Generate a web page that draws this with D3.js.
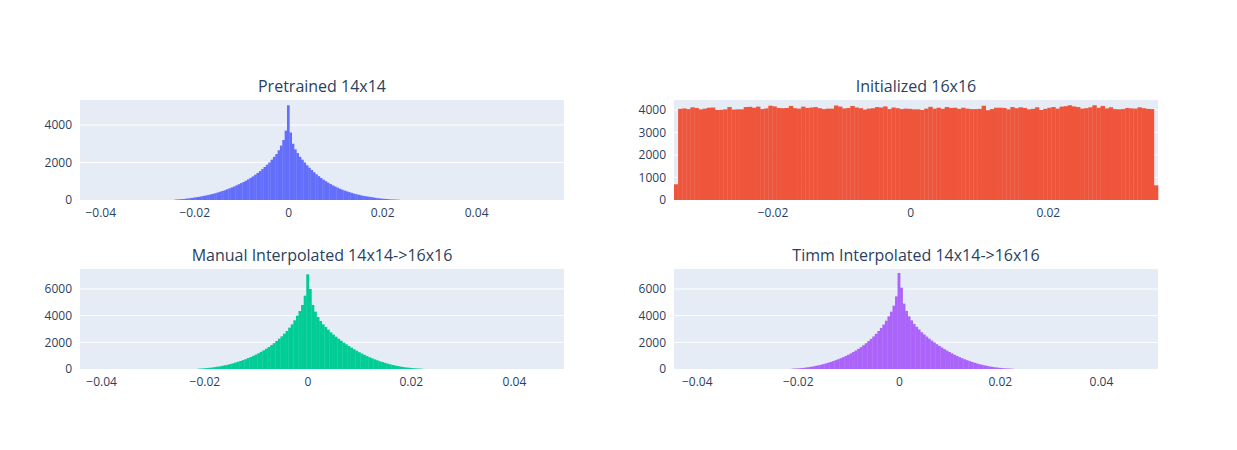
<!DOCTYPE html>
<html>
<head>
<meta charset="utf-8">
<script src="https://cdn.jsdelivr.net/npm/d3@7"></script>
<style>
  body { margin: 0; background: #fff; }
  text { font-family: "Open Sans", sans-serif; fill: #2a3f5f; }
</style>
</head>
<body>
<div id="chart"></div>
<script>
// bin counts, bin width 0.0005, peak bin centred on 0
const binWidth = 0.0005

const pretrainedCounts = [20, 30, 40, 50, 60, 80, 90, 110, 130, 150, 170, 190, 220, 240, 270, 300, 330, 360,
  400, 440, 480, 520, 570, 620, 670, 720, 780, 840, 900, 960, 1030, 1100, 1180, 1260, 1350, 1440, 1540,
  1650, 1760, 1880, 2000, 2150, 2300, 2450, 2650, 2900, 3200, 3700,
  5050,
  3600, 3000, 2700, 2500, 2300, 2150, 2000, 1850, 1720, 1600, 1480, 1370, 1270, 1170, 1080, 1000, 920,
  850, 780, 720, 660, 600, 550, 500, 460, 420, 380, 340, 310, 280, 250, 220, 200, 180, 160, 140, 120,
  100, 85, 70, 60, 50, 40, 30, 25, 20, 15]

const manualCounts = [30, 40, 50, 70, 90, 110, 140, 170, 200, 240, 280, 320, 370, 420, 480, 540, 600,
  670, 740, 820, 900, 990, 1080, 1180, 1290, 1400, 1520, 1650, 1790, 1940, 2100, 2270, 2450, 2650,
  2850, 3100, 3350, 3650, 4000, 4350, 4800, 5500,
  7100,
  6000, 4800, 4300, 3900, 3600, 3350, 3150, 2950, 2750, 2580, 2420, 2270, 2120, 1980, 1850, 1720,
  1600, 1480, 1370, 1260, 1160, 1060, 970, 880, 800, 720, 650, 580, 520, 460, 400, 350, 300, 260,
  220, 180, 150, 120, 100, 80, 60, 45, 35, 25]

const timmCounts = [25, 35, 45, 60, 80, 100, 130, 160, 190, 230, 270, 310, 360, 410, 470, 530, 590,
  660, 730, 810, 890, 980, 1070, 1170, 1280, 1390, 1510, 1640, 1780, 1930, 2090, 2260, 2440, 2640,
  2850, 3080, 3330, 3620, 3950, 4300, 4750, 5450,
  7200,
  6100, 4900, 4350, 3950, 3650, 3380, 3170, 2960, 2760, 2590, 2430, 2280, 2130, 1990, 1860, 1730,
  1610, 1490, 1380, 1270, 1170, 1070, 980, 890, 810, 730, 660, 590, 530, 470, 410, 360, 310, 270,
  230, 190, 160, 130, 105, 85, 65, 50, 40, 30, 20]

// uniform init: edges span the whole axis
const initStart = -0.0343, initEnd = 0.0360
const initCounts = [700, 4050, 4070, 4040, 4120, 4090, 4030, 4060, 4100, 4110, 4000, 4010, 4030, 4130,
  4020, 4030, 4030, 4130, 4140, 4100, 4150, 4040, 4070, 4190, 4160, 4090, 4080, 4090, 4180, 4080,
  4060, 4150, 4090, 4110, 4130, 4080, 4040, 4060, 4060, 4200, 4150, 4070, 4090, 4180, 4110, 4080,
  4020, 4060, 4080, 4130, 4110, 4160, 4040, 4110, 4080, 4040, 4060, 4050, 4030, 4030, 4000, 4060,
  4140, 4060, 4100, 4050, 4130, 4090, 4100, 4050, 4100, 4060, 4040, 4040, 4050, 4190, 3990, 4040,
  4100, 4100, 4090, 4030, 4130, 4080, 4120, 4090, 4030, 4050, 4120, 4000, 4050, 4100, 4130, 4060,
  4150, 4170, 4210, 4160, 4130, 4060, 4080, 4120, 4210, 4100, 4180, 4070, 4120, 4040, 4030, 4040,
  4090, 4070, 4060, 4120, 4080, 4050, 4040, 650]

const titles = ["Pretrained 14x14", "Initialized 16x16", "Manual Interpolated 14x14->16x16", "Timm Interpolated 14x14->16x16"]
const colors = ["#636efa", "#EF553B", "#00cc96", "#ab63fa"]
const xDomains = [[-0.0443, 0.0587], [initStart, initEnd], [-0.0441, 0.0497], [-0.0445, 0.0513]]
const yMax = [5333, 4444, 7500, 7500]
const xTicks = [[-0.04, -0.02, 0, 0.02, 0.04], [-0.02, 0, 0.02], [-0.04, -0.02, 0, 0.02, 0.04], [-0.04, -0.02, 0, 0.02, 0.04]]
const yTicks = [[0, 2000, 4000], [0, 1000, 2000, 3000, 4000], [0, 2000, 4000, 6000], [0, 2000, 4000, 6000]]

const toBins = (counts) => {
  const zero = d3.maxIndex(counts)
  const start = -binWidth / 2 - zero * binWidth
  return counts.map((c, i) => ({ x0: start + i * binWidth, x1: start + (i + 1) * binWidth, y: c }))
}
const initW = (initEnd - initStart) / initCounts.length
const series = [
  toBins(pretrainedCounts),
  initCounts.map((c, i) => ({ x0: initStart + i * initW, x1: initStart + (i + 1) * initW, y: c })),
  toBins(manualCounts),
  toBins(timmCounts)
]

const svg = d3.select("#chart").append("svg").attr("width", 1237).attr("height", 450)
const panels = [
  { left: 80, top: 100 }, { left: 674, top: 100 },
  { left: 80, top: 269 }, { left: 674, top: 269 }
]
const width = 484, height = 100
const tickFmt = d => d === 0 ? "0" : d3.format(".2f")(d).replace("-", "\u2212")

panels.forEach((p, k) => {
  const g = svg.append("g").attr("transform", `translate(${p.left},${p.top})`)
  const x = d3.scaleLinear().domain(xDomains[k]).range([0, width])
  const y = d3.scaleLinear().domain([0, yMax[k]]).range([height, 0])

  g.append("rect").attr("width", width).attr("height", height).attr("fill", "#E5ECF6")

  // grid
  g.selectAll(".grid").data(yTicks[k].filter(d => d > 0)).enter().append("line")
    .attr("x1", 0).attr("x2", width)
    .attr("y1", d => y(d)).attr("y2", d => y(d))
    .attr("stroke", "#fff").attr("stroke-width", 1)

  // bars
  g.selectAll(".bar").data(series[k]).enter().append("rect")
    .attr("x", d => x(d.x0))
    .attr("width", d => Math.max(0.5, x(d.x1) - x(d.x0) + 0.3))
    .attr("y", d => y(d.y))
    .attr("height", d => height - y(d.y))
    .attr("fill", colors[k])

  // axes
  const xa = g.append("g").attr("transform", `translate(0,${height})`)
    .call(d3.axisBottom(x).tickValues(xTicks[k]).tickFormat(tickFmt).tickSize(0).tickPadding(8))
  const ya = g.append("g")
    .call(d3.axisLeft(y).tickValues(yTicks[k]).tickFormat(d3.format("d")).tickSize(0).tickPadding(8))
  ;[xa, ya].forEach(a => {
    a.select(".domain").remove()
    a.selectAll("text").style("font-size", "12px").attr("fill", "#2a3f5f")
  })

  g.append("text").attr("x", width / 2).attr("y", -8)
    .attr("text-anchor", "middle").style("font-size", "16px").text(titles[k])
})
</script>
</body>
</html>
